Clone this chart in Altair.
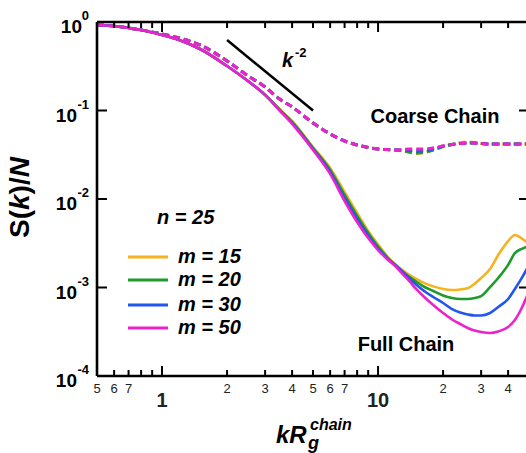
import altair as alt
import pandas as pd

FONT = "Liberation Sans"

# ---------------- data ----------------
k_grid = [0.5, 0.6, 0.7, 0.8, 1.0, 1.2, 1.5, 2.0, 2.5, 3.0, 3.5, 4.0, 5.0, 6.0, 7.0, 8.0, 9.0,
          10, 11, 12, 13, 14, 15, 16, 18, 20, 22, 24, 26, 28, 30, 33, 36, 40, 43, 46, 50]

m_values = [15, 20, 30, 50]
m_colors = ["#F5B320", "#1F9A2C", "#2356EE", "#EE22CC"]
m_labels = ["m = 15", "m = 20", "m = 30", "m = 50"]

# Full chain (solid)
S_full_m15 = [0.925, 0.901, 0.855, 0.812, 0.713, 0.626, 0.495, 0.318, 0.215, 0.150, 0.104, 0.0761, 0.0387,
              0.0224, 0.0120, 0.00695, 0.00435, 0.00306, 0.00227, 0.00184, 0.00156, 0.00138, 0.00125,
              0.00115, 0.00103, 0.000962, 0.000937, 0.00095, 0.00098, 0.00110, 0.00128, 0.00162,
              0.00233, 0.00335, 0.00392, 0.00362, 0.00310]
S_full_m20 = [0.925, 0.901, 0.855, 0.812, 0.713, 0.626, 0.495, 0.318, 0.215, 0.150, 0.103, 0.0742, 0.0377,
              0.0213, 0.0111, 0.00643, 0.00413, 0.00290, 0.00221, 0.00180, 0.00152, 0.00131, 0.00117,
              0.00105, 0.000912, 0.000812, 0.000760, 0.000741, 0.000741, 0.000760, 0.000801, 0.00101,
              0.00128, 0.00180, 0.00245, 0.00272, 0.00294]
S_full_m30 = [0.925, 0.901, 0.855, 0.812, 0.713, 0.626, 0.495, 0.318, 0.215, 0.150, 0.101, 0.0724, 0.0367,
              0.0202, 0.01026, 0.00594, 0.00387, 0.00276, 0.00215, 0.00180, 0.00150, 0.00126, 0.00108,
              0.000949, 0.000781, 0.000668, 0.000571, 0.000522, 0.000496, 0.000483, 0.000483, 0.000515,
              0.000602, 0.000741, 0.000962, 0.00125, 0.00180]
S_full_m50 = [0.925, 0.901, 0.855, 0.812, 0.713, 0.626, 0.495, 0.318, 0.215, 0.150, 0.100, 0.0706, 0.0358,
              0.0192, 0.00949, 0.00550, 0.00362, 0.00265, 0.00210, 0.00175, 0.00142, 0.00117, 0.000962,
              0.000822, 0.000634, 0.000515, 0.000435, 0.000387, 0.000349, 0.000326, 0.000314, 0.000306,
              0.000318, 0.000358, 0.000429, 0.000571, 0.000912]

# Coarse chain (dashed)
S_coarse_m15 = [0.925, 0.901, 0.855, 0.812, 0.732, 0.659, 0.550, 0.363, 0.246, 0.184, 0.135, 0.110, 0.0722,
                0.0543, 0.0452, 0.0408, 0.0382, 0.0367, 0.0362, 0.0358, 0.0349, 0.0336, 0.0327, 0.0331,
                0.0358, 0.0392, 0.0413, 0.0435, 0.0441, 0.0435, 0.0424, 0.0418, 0.0418, 0.0418, 0.0418,
                0.0418, 0.0418]
S_coarse_m20 = [0.925, 0.901, 0.855, 0.812, 0.732, 0.659, 0.550, 0.363, 0.246, 0.184, 0.135, 0.110, 0.0722,
                0.0543, 0.0452, 0.0408, 0.0382, 0.0367, 0.0362, 0.0358, 0.0353, 0.0340, 0.0331, 0.0336,
                0.0358, 0.0392, 0.0413, 0.0424, 0.0429, 0.0429, 0.0424, 0.0418, 0.0418, 0.0418, 0.0418,
                0.0418, 0.0418]
S_coarse_m30 = [0.925, 0.901, 0.855, 0.812, 0.732, 0.659, 0.550, 0.363, 0.246, 0.184, 0.135, 0.110, 0.0722,
                0.0543, 0.0452, 0.0408, 0.0382, 0.0367, 0.0362, 0.0358, 0.0358, 0.0353, 0.0349, 0.0349,
                0.0367, 0.0397, 0.0413, 0.0424, 0.0429, 0.0429, 0.0424, 0.0418, 0.0418, 0.0418, 0.0418,
                0.0418, 0.0418]
S_coarse_m50 = [0.925, 0.901, 0.855, 0.812, 0.732, 0.659, 0.550, 0.363, 0.246, 0.184, 0.135, 0.110, 0.0722,
                0.0543, 0.0452, 0.0408, 0.0382, 0.0367, 0.0362, 0.0358, 0.0362, 0.0367, 0.0367, 0.0367,
                0.0377, 0.0397, 0.0413, 0.0424, 0.0429, 0.0429, 0.0424, 0.0418, 0.0418, 0.0418, 0.0418,
                0.0418, 0.0418]

# k^-2 guide line
slope_k = [2.0, 5.0]
slope_S = [0.625, 0.10]

# axis ticks / labels
x_minor_ticks = [0.6, 0.7, 0.8, 0.9, 2, 3, 4, 5, 6, 7, 8, 9, 20, 30, 40]
x_major_ticks = [1, 10]
x_small_label_vals = [0.5, 0.6, 0.7, 2, 3, 4, 5, 6, 7, 20, 30, 40]
x_small_label_txt = ["5", "6", "7", "2", "3", "4", "5", "6", "7", "2", "3", "4"]
x_big_label_vals = [1, 10]
x_big_label_txt = ["1", "10"]
y_tick_vals = [0.1, 0.01, 0.001]
y_label_vals = [1, 0.1, 0.01, 0.001, 0.0001]
y_label_exp = ["0", "-1", "-2", "-3", "-4"]

# ---------------- build ----------------
W, H = 429, 354
xscale = alt.Scale(type="log", domain=[0.5, 48.4], nice=False)
yscale = alt.Scale(type="log", domain=[0.0001, 1], nice=False)
X = alt.X("k:Q", scale=xscale, axis=None)
Y = alt.Y("S:Q", scale=yscale, axis=None)
color = alt.Color("m:N", scale=alt.Scale(domain=m_values, range=m_colors), legend=None)

full_rows, coarse_rows = [], []
for m, fs, cs in zip(m_values, [S_full_m15, S_full_m20, S_full_m30, S_full_m50],
                     [S_coarse_m15, S_coarse_m20, S_coarse_m30, S_coarse_m50]):
    for k, s in zip(k_grid, fs):
        full_rows.append({"k": k, "S": s, "m": m})
    for k, s in zip(k_grid, cs):
        coarse_rows.append({"k": k, "S": s, "m": m})
df_full = pd.DataFrame(full_rows)
df_coarse = pd.DataFrame(coarse_rows)

coarse = alt.Chart(df_coarse).mark_line(strokeWidth=3, strokeDash=[7, 4], clip=True,
                                        interpolate="monotone").encode(x=X, y=Y, color=color)
full = alt.Chart(df_full).mark_line(strokeWidth=2.6, clip=True,
                                    interpolate="monotone").encode(x=X, y=Y, color=color)
slope = alt.Chart(pd.DataFrame({"k": slope_k, "S": slope_S})).mark_line(
    color="black", strokeWidth=2.5).encode(x=X, y=Y)

one = pd.DataFrame({"t": [""]})


def rule(x=None, x2=None, y=None, y2=None, w=2.5):
    enc = {}
    if x is not None:
        enc["x"] = alt.value(x)
    if x2 is not None:
        enc["x2"] = alt.value(x2)
    if y is not None:
        enc["y"] = alt.value(y)
    if y2 is not None:
        enc["y2"] = alt.value(y2)
    return alt.Chart(one).mark_rule(color="black", strokeWidth=w).encode(**enc)


def label(txt, x, y, size, weight="bold", style="normal", align="left", baseline="middle", angle=0,
          color="black"):
    return alt.Chart(pd.DataFrame({"t": [txt]})).mark_text(
        align=align, baseline=baseline, fontSize=size, fontWeight=weight, fontStyle=style,
        font=FONT, angle=angle, color=color).encode(x=alt.value(x), y=alt.value(y), text="t:N")


frame = [
    rule(x=0, y=0, y2=H, w=2.6),
    rule(x=0, x2=W + 5, y=0, w=2.6),
    rule(x=0, x2=W + 5, y=H, w=2.6),
]

dfx_minor = pd.DataFrame({"k": x_minor_ticks})
dfx_major = pd.DataFrame({"k": x_major_ticks})
dfy_ticks = pd.DataFrame({"S": y_tick_vals})
tk = dict(color="black", strokeWidth=2)
ticks = [
    alt.Chart(dfx_minor).mark_rule(**tk).encode(x=X, y=alt.value(H), y2=alt.value(H - 6)),
    alt.Chart(dfx_major).mark_rule(**tk).encode(x=X, y=alt.value(H), y2=alt.value(H - 10)),
    alt.Chart(dfx_minor).mark_rule(**tk).encode(x=X, y=alt.value(0), y2=alt.value(6)),
    alt.Chart(dfx_major).mark_rule(**tk).encode(x=X, y=alt.value(0), y2=alt.value(10)),
    alt.Chart(dfy_ticks).mark_rule(**tk).encode(y=Y, x=alt.value(0), x2=alt.value(10)),
    alt.Chart(dfy_ticks).mark_rule(**tk).encode(y=Y, x=alt.value(W + 3), x2=alt.value(W - 7)),
]

xlab_small = alt.Chart(pd.DataFrame({"k": x_small_label_vals, "t": x_small_label_txt})).mark_text(
    fontSize=13, font=FONT, baseline="middle", align="center", color="#222").encode(
    x=X, y=alt.value(H + 13), text="t:N")
xlab_big = alt.Chart(pd.DataFrame({"k": x_big_label_vals, "t": x_big_label_txt})).mark_text(
    fontSize=20, font=FONT, fontWeight="bold", baseline="middle", align="center", color="#222").encode(
    x=X, y=alt.value(H + 25), text="t:N")

df_ylab = pd.DataFrame({"S": y_label_vals, "e": y_label_exp})
ytxt = dict(fontSize=19, font=FONT, fontWeight="bold", align="right", baseline="middle", dy=5)
ylab_base0 = alt.Chart(df_ylab[df_ylab["e"] == "0"]).mark_text(**ytxt).encode(
    y=Y, x=alt.value(-15), text=alt.value("10"))
ylab_baseN = alt.Chart(df_ylab[df_ylab["e"] != "0"]).mark_text(**ytxt).encode(
    y=Y, x=alt.value(-20), text=alt.value("10"))
ylab_exp = alt.Chart(df_ylab).mark_text(fontSize=13, font=FONT, fontWeight="bold", align="right",
                                        baseline="middle", dy=-6).encode(
    y=Y, x=alt.value(-8), text="e:N")

# y title  S(k)/N
ytitle = [
    label("S(", -76, 216, 28, angle=270),
    label("k", -76, 188, 28, style="italic", angle=270),
    label(")/", -76, 172.4, 28, angle=270),
    label("N", -76, 155.3, 28, style="italic", angle=270),
]
# x title  kR_g^chain
xtitle = [
    label("kR", 179, 421, 24, style="italic", baseline="alphabetic"),
    label("g", 211, 427, 18, style="italic", baseline="alphabetic"),
    label("chain", 213, 408, 16, style="italic", baseline="alphabetic"),
]

annot = [
    label("k", 185, 45, 20, style="italic", baseline="alphabetic"),
    label("-2", 198, 35, 13, baseline="alphabetic"),
    label("Coarse Chain", 338, 95, 20, align="center"),
    label("Full Chain", 309, 323, 20, align="center"),
    label("n = 25", 60, 196, 20, style="italic"),
]

legend = []
for i, (col, txt) in enumerate(zip(m_colors, m_labels)):
    yy = [235, 258, 283, 306][i]
    legend.append(alt.Chart(one).mark_rule(color=col, strokeWidth=3).encode(
        x=alt.value(31), x2=alt.value(71), y=alt.value(yy)))
    legend.append(label(txt, 81, yy, 20, style="italic"))

chart = alt.layer(
    coarse, full, slope, *frame, *ticks, xlab_small, xlab_big, ylab_base0, ylab_baseN, ylab_exp,
    *ytitle, *xtitle, *annot, *legend
).properties(
    width=W, height=H,
    autosize=alt.AutoSizeParams(type="none"),
    padding={"left": 97, "top": 22, "right": 0, "bottom": 77},
    background="white",
).configure_view(stroke=None)

chart.save("out.html", embed_options={"renderer": "svg", "actions": False})
